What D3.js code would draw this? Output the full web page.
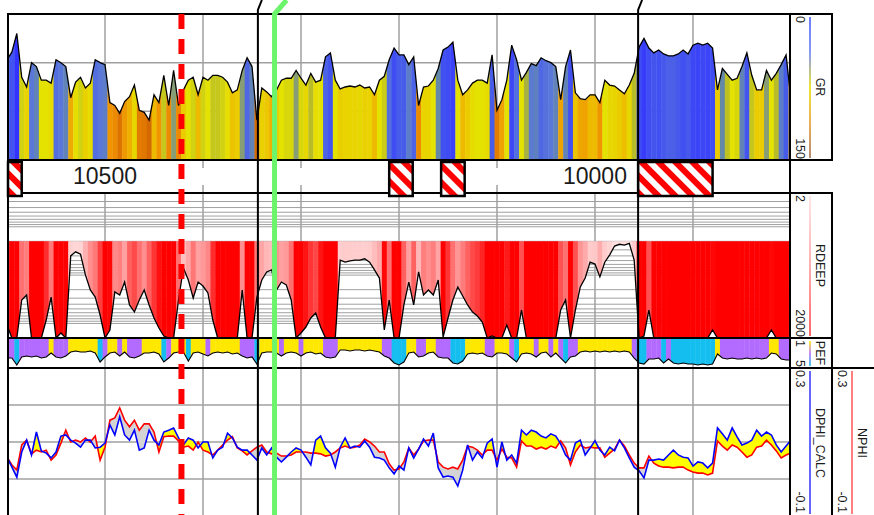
<!DOCTYPE html>
<html>
<head>
    <meta charset="utf-8" />
    <title>Well log</title>
    <script src="https://cdn.jsdelivr.net/npm/d3@7"></script>
    <style>
        body { margin: 0; background: #fff; }
        svg { display: block; font-family: "Liberation Sans", Arial, sans-serif; }
    </style>
</head>
<body>
<div id="chart"></div>
<script type="text/javascript">
    // log samples, one every 5 ft starting at 10600 ft
    var depthTop = 10600, depthStep = 5;

    var gr = [
        47, 39, 20, 65, 75, 50, 54, 68, 68, 71,
        47, 50, 54, 86, 70, 65, 76, 71, 47, 50,
        52, 91, 94, 102, 90, 85, 73, 99, 101, 109,
        83, 91, 63, 94, 58, 94, 78, 68, 65, 83,
        65, 68, 63, 63, 65, 70, 81, 78, 58, 45,
        54, 109, 76, 80, 85, 78, 68, 66, 66, 58,
        66, 73, 61, 70, 68, 44, 40, 68, 77, 75,
        74, 75, 73, 76, 75, 83, 68, 64, 47, 35,
        42, 42, 52, 44, 94, 75, 74, 68, 56, 37,
        34, 29, 68, 83, 78, 71, 68, 68, 71, 42,
        99, 88, 68, 32, 47, 68, 60, 51, 53, 45,
        48, 50, 54, 88, 54, 37, 81, 87, 88, 83,
        83, 91, 68, 73, 74, 78, 82, 73, 61, 34,
        25, 35, 40, 37, 41, 43, 43, 41, 37, 41,
        32, 30, 32, 30, 35, 78, 56, 62, 68, 66,
        54, 40, 63, 78, 78, 58, 68, 61, 52, 42,
        88
    ];

    var rdeep = [
        1077, 2000, 2000, 327, 258, 2000, 2000, 2000, 849, 284,
        2000, 1577, 2000, 40, 33, 37, 99, 203, 284, 669,
        2000, 1367, 223, 258, 139, 415, 580, 327, 203, 415,
        771, 1242, 1818, 2000, 2000, 327, 71, 126, 298, 139,
        168, 234, 849, 2000, 2000, 2000, 2000, 2000, 203, 2000,
        2000, 284, 126, 86, 78, 203, 139, 160, 327, 2000,
        1577, 1185, 771, 608, 1185, 2000, 2000, 2000, 49, 54,
        51, 49, 49, 46, 54, 78, 115, 1367, 327, 2000,
        2000, 415, 139, 415, 86, 258, 203, 258, 126, 1908,
        771, 327, 176, 271, 415, 580, 701, 934, 2000, 1818,
        2000, 2000, 1077, 2000, 2000, 527, 2000, 2000, 2000, 2000,
        2000, 2000, 2000, 527, 327, 2000, 527, 176, 115, 54,
        59, 109, 54, 38, 25, 23, 24, 22, 49, 2000,
        1818, 527, 2000, 2000, 2000, 2000, 2000, 2000, 2000, 2000,
        2000, 2000, 2000, 2000, 1367, 2000, 2000, 2000, 2000, 2000,
        2000, 2000, 2000, 2000, 2000, 2000, 1367, 2000, 2000, 2000,
        2000
    ];

    var pef = [
        3.67, 3.67, 4.60, 3.53, 3.40, 3.53, 3.40, 3.67, 3.53, 3.00,
        3.53, 3.67, 3.40, 2.87, 2.73, 2.87, 2.87, 2.73, 3.00, 4.20,
        3.53, 3.00, 2.87, 3.40, 2.87, 3.53, 3.67, 3.40, 3.00, 3.00,
        2.87, 3.13, 4.20, 3.67, 3.00, 2.87, 2.87, 4.07, 3.00, 2.87,
        3.13, 3.40, 3.00, 2.87, 3.00, 2.87, 3.13, 3.00, 3.40, 3.67,
        3.53, 4.47, 3.00, 2.87, 2.87, 3.00, 3.40, 3.00, 2.87, 3.00,
        3.40, 3.00, 2.87, 3.13, 3.00, 3.53, 3.67, 3.53, 2.60, 2.60,
        2.73, 2.60, 2.60, 2.73, 2.60, 2.73, 2.87, 3.40, 3.67, 4.33,
        4.60, 4.20, 3.00, 2.87, 3.53, 3.40, 3.00, 2.87, 3.53, 3.67,
        3.67, 4.33, 4.47, 4.07, 3.13, 3.00, 3.13, 3.00, 3.40, 3.53,
        3.00, 3.00, 3.13, 3.67, 4.20, 3.13, 3.00, 3.13, 3.53, 3.00,
        2.87, 3.53, 3.00, 3.67, 4.33, 3.53, 3.40, 2.87, 2.73, 2.87,
        2.73, 2.87, 2.73, 2.87, 2.73, 2.87, 2.73, 2.87, 3.67, 4.33,
        4.47, 3.80, 3.80, 3.67, 4.33, 3.80, 4.33, 4.47, 4.33, 4.47,
        4.47, 4.60, 4.47, 4.60, 4.47, 3.13, 3.67, 3.80, 3.67, 3.80,
        3.80, 3.67, 3.80, 3.67, 3.80, 3.67, 3.00, 3.13, 3.80, 3.93,
        3.93
    ];

    var dphi = [
        0.059, 0.032, 0.005, 0.073, 0.105, 0.065, 0.127, 0.076, 0.070, 0.057,
        0.073, 0.116, 0.119, 0.105, 0.097, 0.086, 0.105, 0.105, 0.084, 0.086,
        0.097, 0.146, 0.119, 0.168, 0.119, 0.105, 0.132, 0.078, 0.084, 0.132,
        0.105, 0.092, 0.127, 0.132, 0.138, 0.111, 0.092, 0.111, 0.105, 0.084,
        0.100, 0.100, 0.057, 0.078, 0.086, 0.124, 0.111, 0.086, 0.078, 0.078,
        0.065, 0.051, 0.084, 0.065, 0.084, 0.059, 0.046, 0.059, 0.073, 0.084,
        0.078, 0.059, 0.038, 0.105, 0.116, 0.084, 0.070, 0.032, 0.086, 0.111,
        0.084, 0.089, 0.086, 0.103, 0.086, 0.059, 0.057, 0.051, 0.030, 0.014,
        0.035, 0.024, 0.084, 0.057, 0.081, 0.108, 0.089, 0.124, 0.030, 0.005,
        0.008, 0.005, -0.019, 0.024, 0.092, 0.051, 0.073, 0.057, 0.097, 0.108,
        0.032, 0.100, 0.051, 0.065, 0.043, 0.132, 0.119, 0.132, 0.127, 0.116,
        0.111, 0.122, 0.116, 0.095, 0.065, 0.051, 0.097, 0.105, 0.065, 0.084,
        0.103, 0.078, 0.065, 0.086, 0.076, 0.105, 0.084, 0.057, 0.032, 0.022,
        0.003, 0.051, 0.051, 0.054, 0.051, 0.065, 0.078, 0.065, 0.059, 0.057,
        0.035, 0.046, 0.043, 0.030, 0.043, 0.138, 0.122, 0.105, 0.138, 0.114,
        0.092, 0.097, 0.105, 0.132, 0.116, 0.127, 0.119, 0.092, 0.073, 0.089,
        0.105
    ];

    var nphi = [
        0.059, 0.038, 0.024, 0.092, 0.105, 0.068, 0.078, 0.073, 0.078, 0.051,
        0.065, 0.097, 0.132, 0.100, 0.105, 0.100, 0.111, 0.100, 0.116, 0.051,
        0.086, 0.159, 0.165, 0.192, 0.159, 0.141, 0.159, 0.132, 0.149, 0.149,
        0.127, 0.073, 0.114, 0.116, 0.116, 0.103, 0.086, 0.089, 0.078, 0.100,
        0.078, 0.073, 0.065, 0.078, 0.092, 0.105, 0.114, 0.084, 0.076, 0.065,
        0.076, 0.086, 0.092, 0.073, 0.068, 0.070, 0.062, 0.062, 0.065, 0.073,
        0.073, 0.073, 0.070, 0.070, 0.068, 0.062, 0.065, 0.073, 0.084, 0.089,
        0.084, 0.086, 0.092, 0.108, 0.100, 0.089, 0.073, 0.073, 0.041, 0.024,
        0.027, 0.046, 0.084, 0.065, 0.081, 0.103, 0.105, 0.105, 0.046, 0.032,
        0.027, 0.032, 0.027, 0.051, 0.089, 0.086, 0.078, 0.065, 0.078, 0.078,
        0.051, 0.081, 0.059, 0.057, 0.032, 0.103, 0.089, 0.089, 0.081, 0.086,
        0.081, 0.089, 0.084, 0.103, 0.084, 0.038, 0.073, 0.092, 0.084, 0.086,
        0.084, 0.084, 0.059, 0.070, 0.081, 0.105, 0.089, 0.065, 0.043, 0.030,
        0.030, 0.062, 0.043, 0.035, 0.032, 0.032, 0.030, 0.032, 0.032, 0.024,
        0.019, 0.016, 0.016, 0.011, 0.016, 0.103, 0.089, 0.078, 0.092, 0.086,
        0.073, 0.059, 0.065, 0.086, 0.089, 0.105, 0.092, 0.076, 0.057, 0.065,
        0.070
    ];

    // depth track annotations
    var gridDepths = [10500, 10400, 10300, 10200, 10100, 10000, 9900];
    var depthLabels = [10500, 10000];
    var perfTop = [10599, 10210, 10157, 9956];
    var perfBase = [10585, 10186, 10133, 9880];
    var formationTops = [10344, 9956];
    var greenMarker = 10327;
    var redMarker = 10422;

    // header panel text
    var curveNames = ["GR", "RDEEP", "PEF", "DPHI_CALC", "NPHI"];
    var scaleLeft = ["0", "2", "1", "0.3", "0.3"];
    var scaleRight = ["150", "2000", "5", "-0.1", "-0.1"];
    var grGrid = [50, 100];
    var porGrid = [0.2, 0.1, 0.0];

    var W = 874, H = 515;
    var L = 8, R = 790;
    var svg = d3.select("#chart").append("svg").attr("width", W).attr("height", H);
    var defs = svg.append("defs");

    var depths = gr.map(function (d, i) { return depthTop - i * depthStep; });
    var idx = d3.range(depths.length);

    var x = d3.scaleLinear().domain([10599, 9801]).range([L, R]);
    var yGR = d3.scaleLinear().domain([0, 150]).range([14, 160]);
    var yRes = d3.scaleLog().domain([2, 2000]).range([193, 338]).clamp(true);
    var yPef = d3.scaleLinear().domain([1, 5]).range([338, 368]).clamp(true);
    var yPor = d3.scaleLinear().domain([0.3, -0.1]).range([368, 516]);

    var grColor = d3.scaleLinear()
        .domain([20, 40, 50, 56, 61, 68, 80, 92, 105, 150])
        .range(["#3333ff", "#4455ee", "#5a78d8", "#6488a8", "#b8bc28", "#e4e200", "#ecc800", "#f09000", "#d86c00", "#a04800"])
        .clamp(true);
    var resColor = d3.scaleLog()
        .domain([20, 60, 200, 600, 1500])
        .range(["#ffe4e4", "#ffc8c8", "#ff9090", "#ff4848", "#ff0000"])
        .clamp(true);
    function pefColor(v) {
        return v < 3.25 ? "#ffe800" : (v < 3.95 ? "#b36bff" : "#14bff0");
    }

    function px(i) { return x(depths[i]); }

    defs.append("clipPath").attr("id", "plot")
        .append("rect").attr("x", L).attr("y", 0).attr("width", R - L).attr("height", H);

    // hatch for perforation boxes
    var pat = defs.append("pattern").attr("id", "hatch")
        .attr("patternUnits", "userSpaceOnUse")
        .attr("width", 12).attr("height", 12)
        .attr("patternTransform", "rotate(-45)");
    pat.append("rect").attr("width", 12).attr("height", 12).attr("fill", "#fff");
    pat.append("rect").attr("width", 6).attr("height", 12).attr("fill", "#ff0000");

    // ---- grid ----
    var grid = svg.append("g").attr("clip-path", "url(#plot)")
        .attr("stroke", "#a0a0a0").attr("fill", "none");
    var tracks = [[14, 160], [193, 338], [338, 368], [368, 516]];
    tracks.forEach(function (t) {
        grid.selectAll(null).data(gridDepths).join("line")
            .attr("x1", x).attr("x2", x)
            .attr("y1", t[0]).attr("y2", t[1])
            .attr("stroke-width", 1.5);
    });
    grid.selectAll(null).data(grGrid).join("line")
        .attr("x1", L).attr("x2", R)
        .attr("y1", yGR).attr("y2", yGR).attr("stroke-width", 1.5);
    grid.selectAll(null).data(porGrid).join("line")
        .attr("x1", L).attr("x2", R)
        .attr("y1", yPor).attr("y2", yPor).attr("stroke-width", 1.5);
    grid.selectAll(null).data(yRes.ticks(30)).join("line")
        .attr("x1", L).attr("x2", R)
        .attr("y1", yRes).attr("y2", yRes).attr("stroke-width", 1);

    // depth track ticks for unlabelled grid lines
    var unl = gridDepths.filter(function (d) { return depthLabels.indexOf(d) < 0; });
    grid.selectAll(null).data(unl).join("line")
        .attr("x1", x).attr("x2", x).attr("y1", 160).attr("y2", 168).attr("stroke-width", 1.5);
    grid.selectAll(null).data(unl).join("line")
        .attr("x1", x).attr("x2", x).attr("y1", 185).attr("y2", 193).attr("stroke-width", 1.5);

    // ---- colour filled curves ----
    function stripeFill(id, values, area, color, top, bottom) {
        defs.append("clipPath").attr("id", id).append("path").attr("d", area(values));
        svg.append("g").attr("clip-path", "url(#plot)")
            .append("g").attr("clip-path", "url(#" + id + ")")
            .selectAll("rect").data(values).join("rect")
            .attr("x", function (d, i) { return x(depths[i] + depthStep / 2); })
            .attr("width", function (d, i) {
                return x(depths[i] - depthStep / 2) - x(depths[i] + depthStep / 2) + 0.4;
            })
            .attr("y", top).attr("height", bottom - top)
            .attr("fill", function (d) { return color(d); });
    }

    stripeFill("grClip", gr,
        d3.area().x(function (d, i) { return px(i); }).y0(yGR(150)).y1(function (d) { return yGR(d); }),
        grColor, 14, 160);
    stripeFill("resClip", rdeep,
        d3.area().x(function (d, i) { return px(i); }).y0(yRes(20)).y1(function (d) { return yRes(d); }),
        resColor, 193, 338);
    stripeFill("pefClip", pef,
        d3.area().x(function (d, i) { return px(i); }).y0(338).y1(function (d) { return yPef(d); }),
        pefColor, 338, 368);

    // DPHI / NPHI crossover shading
    defs.append("clipPath").attr("id", "aboveN").append("path")
        .attr("d", d3.area().x(px).y0(368).y1(function (i) { return yPor(nphi[i]); })(idx));
    defs.append("clipPath").attr("id", "belowN").append("path")
        .attr("d", d3.area().x(px).y0(516).y1(function (i) { return yPor(nphi[i]); })(idx));
    var between = d3.area().x(px)
        .y0(function (i) { return yPor(nphi[i]); })
        .y1(function (i) { return yPor(dphi[i]); });
    var por = svg.append("g").attr("clip-path", "url(#plot)");
    por.append("g").attr("clip-path", "url(#aboveN)")
        .append("path").attr("d", between(idx)).attr("fill", "#ffff00");
    por.append("g").attr("clip-path", "url(#belowN)")
        .append("path").attr("d", between(idx)).attr("fill", "#d4d4d4");

    // ---- curves ----
    var curves = svg.append("g").attr("clip-path", "url(#plot)").attr("fill", "none");
    curves.append("path")
        .attr("d", d3.line().x(function (d, i) { return px(i); }).y(yGR)(gr))
        .attr("stroke", "#000").attr("stroke-width", 1.3);
    curves.append("path")
        .attr("d", d3.line().x(function (d, i) { return px(i); }).y(yRes)(rdeep))
        .attr("stroke", "#000").attr("stroke-width", 1.3);
    curves.append("path")
        .attr("d", d3.line().x(function (d, i) { return px(i); }).y(yPef)(pef))
        .attr("stroke", "#000").attr("stroke-width", 1.1);
    curves.append("path")
        .attr("d", d3.line().x(function (d, i) { return px(i); }).y(yPor)(nphi))
        .attr("stroke", "#ff0000").attr("stroke-width", 1.6);
    curves.append("path")
        .attr("d", d3.line().x(function (d, i) { return px(i); }).y(yPor)(dphi))
        .attr("stroke", "#0000ff").attr("stroke-width", 1.6);

    // ---- frame ----
    var frame = svg.append("g").attr("stroke", "#000").attr("stroke-width", 2).attr("fill", "none");
    [14, 160, 193, 338, 368].forEach(function (y) {
        frame.append("line").attr("x1", L).attr("x2", 832).attr("y1", y).attr("y2", y);
    });
    frame.append("line").attr("x1", 832).attr("x2", W).attr("y1", 368).attr("y2", 368);
    frame.append("line").attr("x1", L).attr("x2", L).attr("y1", 13).attr("y2", 516);
    frame.append("line").attr("x1", R).attr("x2", R).attr("y1", 13).attr("y2", 516);
    frame.append("line").attr("x1", 832).attr("x2", 832).attr("y1", 13).attr("y2", 161);
    frame.append("line").attr("x1", 832).attr("x2", 832).attr("y1", 192).attr("y2", 516);

    // ---- depth track ----
    svg.selectAll(".dlab").data(depthLabels).join("text")
        .attr("class", "dlab")
        .attr("x", x).attr("y", 184)
        .attr("text-anchor", "middle")
        .attr("font-size", 23).attr("fill", "#1a1a1a")
        .text(function (d) { return d; });

    svg.selectAll(".perf").data(perfTop).join("rect")
        .attr("class", "perf")
        .attr("x", function (d) { return x(d); })
        .attr("width", function (d, i) { return x(perfBase[i]) - x(d); })
        .attr("y", 162).attr("height", 34)
        .attr("fill", "url(#hatch)")
        .attr("stroke", "#000").attr("stroke-width", 2.5);

    // ---- header panel ----
    var hdr = [
        { y0: 14, y1: 160, bx: 796, lx: 810, nx: 816, grad: ["#4b5cff", "#6a80f0", "#e8e000", "#e89a30", "#a07050"] },
        { y0: 193, y1: 338, bx: 796, lx: 810, nx: 816, grad: ["#ffe0e0", "#ff9a9a", "#ff4040"] },
        { y0: 338, y1: 368, bx: 796, lx: 810, nx: 816, grad: ["#ffe800", "#b36bff", "#14bff0"] },
        { y0: 368, y1: 514, bx: 796, lx: 810, nx: 816, grad: ["#4040ff", "#4040ff"] },
        { y0: 368, y1: 514, bx: 838, lx: 852, nx: 858, grad: ["#ff6060", "#ff6060"] }
    ];
    hdr.forEach(function (h, k) {
        var g = defs.append("linearGradient").attr("id", "cb" + k)
            .attr("x1", 0).attr("y1", 0).attr("x2", 0).attr("y2", 1);
        h.grad.forEach(function (c, j) {
            g.append("stop").attr("offset", j / (h.grad.length - 1)).attr("stop-color", c);
        });
        svg.append("rect")
            .attr("x", h.lx - 0.8).attr("width", 1.6)
            .attr("y", h.y0 + 3).attr("height", Math.max(h.y1, k > 2 ? 516 : h.y1) - h.y0 - 5)
            .attr("fill", "url(#cb" + k + ")");
        var t = [[scaleLeft[k], h.bx, h.y0 + 2, "start"],
                 [scaleRight[k], h.bx, h.y1 - 1, "end"],
                 [curveNames[k], h.nx, (h.y0 + (k > 2 ? 518 : h.y1)) / 2, "middle"]];
        t.forEach(function (s) {
            svg.append("text")
                .attr("transform", "translate(" + s[1] + "," + s[2] + ") rotate(90)")
                .attr("text-anchor", s[3])
                .attr("font-size", 12.5).attr("fill", "#1a1a1a")
                .text(s[0]);
        });
    });

    // ---- markers ----
    formationTops.forEach(function (d) {
        svg.append("path")
            .attr("d", "M" + x(d) + ",516L" + x(d) + ",10L" + (x(d) + 4) + ",0")
            .attr("fill", "none").attr("stroke", "#000").attr("stroke-width", 2);
    });
    svg.append("line")
        .attr("x1", x(redMarker)).attr("x2", x(redMarker))
        .attr("y1", 14).attr("y2", 516)
        .attr("stroke", "#ff0000").attr("stroke-width", 6)
        .attr("stroke-dasharray", "15,10");
    svg.append("path")
        .attr("d", "M" + x(greenMarker) + ",516L" + x(greenMarker) + ",14L" + (x(greenMarker) + 12) + ",0")
        .attr("fill", "none").attr("stroke", "#6cf56c").attr("stroke-width", 5);
</script>
</body>
</html>
